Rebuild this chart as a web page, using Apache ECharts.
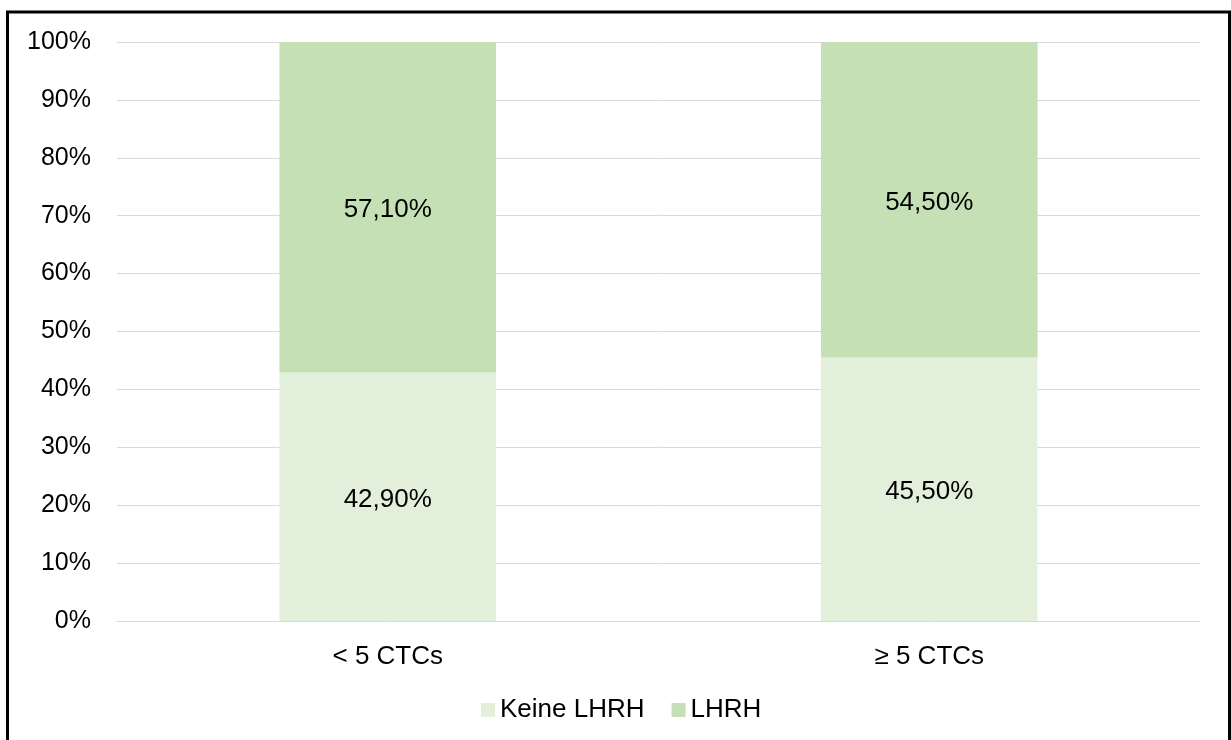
<!DOCTYPE html>
<html>
<head>
<meta charset="utf-8">
<script src="https://cdn.jsdelivr.net/npm/echarts@6/dist/echarts.min.js"></script>
<style>
  html, body { margin: 0; padding: 0; background: #fff; }
  #chart { width: 1231px; height: 740px; }
</style>
</head>
<body>
<div id="chart"></div>
<script>
// data
var categories = ["< 5 CTCs", "≥ 5 CTCs"];
var keineLhrh = [42.9, 45.5];
var lhrh = [57.1, 54.5];
var seriesNames = ["Keine LHRH", "LHRH"];

var font = "Arial, 'Liberation Sans', sans-serif";

function pct(p) {
  return p.value.toFixed(2).replace(".", ",") + "%";
}

var chart = echarts.init(document.getElementById("chart"));
chart.setOption({
  animation: false,
  color: ["#E2EFDA", "#C5E0B4"],
  textStyle: { fontFamily: font, color: "#000" },
  graphic: [
    {
      type: "rect",
      shape: { x: 7.5, y: 12, width: 1222, height: 800 },
      style: { fill: "none", stroke: "#000", lineWidth: 3 },
      silent: true
    }
  ],
  grid: {
    left: 117,
    right: 31,
    top: 42,
    bottom: 119
  },
  legend: {
    left: 481,
    top: 697,
    padding: 0,
    itemWidth: 14,
    itemHeight: 14,
    itemGap: 27,
    icon: "rect",
    textStyle: { fontSize: 26, fontFamily: font, color: "#000" },
    data: seriesNames
  },
  xAxis: {
    type: "category",
    data: categories,
    axisTick: { show: false },
    axisLine: { lineStyle: { color: "#d9d9d9", width: 1 } },
    axisLabel: { fontSize: 26, color: "#000", fontFamily: font, margin: 23 }
  },
  yAxis: {
    type: "value",
    min: 0,
    max: 100,
    interval: 10,
    axisLine: { show: false },
    axisTick: { show: false },
    splitLine: { lineStyle: { color: "#d9d9d9", width: 1 } },
    axisLabel: {
      fontSize: 25,
      color: "#000",
      fontFamily: font,
      margin: 26,
      formatter: "{value}%"
    }
  },
  series: [
    {
      name: seriesNames[0],
      type: "bar",
      stack: "total",
      barWidth: "40%",
      data: keineLhrh,
      label: {
        show: true,
        position: "inside",
        offset: [0, 3],
        formatter: pct,
        fontSize: 26,
        color: "#000",
        fontFamily: font
      }
    },
    {
      name: seriesNames[1],
      type: "bar",
      stack: "total",
      barWidth: "40%",
      data: lhrh,
      label: {
        show: true,
        position: "inside",
        offset: [0, 3],
        formatter: pct,
        fontSize: 26,
        color: "#000",
        fontFamily: font
      }
    }
  ]
});
</script>
</body>
</html>
